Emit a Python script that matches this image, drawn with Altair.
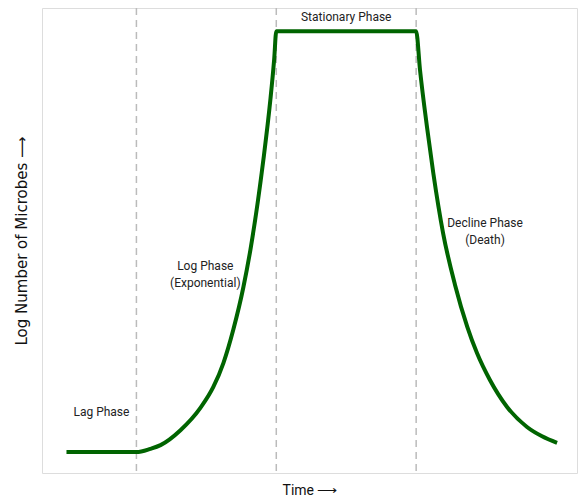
import altair as alt
import pandas as pd

# Growth curve points (time, log number)
t_vals = [1.0, 3.0, 3.4, 3.69, 4.26, 4.83, 5.2, 5.49, 5.77, 6.06, 6.26, 6.63, 6.83, 6.94, 7.0,
          11.0, 11.11, 11.31, 11.49, 11.77, 12.11, 12.46, 12.74, 13.11, 13.6, 14.17, 14.6, 15.03]
y_vals = [0.45, 0.45, 0.52, 0.60, 0.92, 1.40, 1.85, 2.37, 3.08, 4.0, 4.80, 6.73, 8.02, 8.9, 9.5,
          9.5, 8.67, 7.44, 6.45, 5.16, 4.05, 3.15, 2.58, 2.0, 1.42, 0.99, 0.79, 0.65]

phase_bounds = [3, 7, 11]

label_text = ["Lag Phase", "Log Phase", "(Exponential)", "Stationary Phase", "Decline Phase", "(Death)"]
label_x = [2.0, 4.97, 4.97, 9.0, 12.97, 12.97]
label_y = [1.31, 4.45, 4.09, 9.81, 5.38, 5.01]

curve = pd.DataFrame({"t": t_vals, "y": y_vals})
bounds = pd.DataFrame({"t": phase_bounds})
labels = pd.DataFrame({"text": label_text, "t": label_x, "y": label_y})

xscale = alt.Scale(domain=[0.3, 15.6], nice=False, zero=False)
yscale = alt.Scale(domain=[0, 10], nice=False, zero=False)

x_axis = alt.Axis(title="Time ⟶", labels=False, ticks=False, domain=False, grid=False,
                  titleFontSize=14, titleFont="Roboto", titleFontWeight="normal",
                  titleColor="#111111", titlePadding=10)
y_axis = alt.Axis(title="Log Number of Microbes ⟶", labels=False, ticks=False, domain=False,
                  grid=False, titleFontSize=15, titleFont="DejaVu Sans",
                  titleFontWeight="normal", titleColor="#111111", titlePadding=13)

rules = alt.Chart(bounds).mark_rule(color="#bbbbbb", strokeWidth=1.5, strokeDash=[7, 5]).encode(
    x=alt.X("t:Q", scale=xscale, axis=x_axis)
)

line = alt.Chart(curve).mark_line(color="#006400", strokeWidth=4, interpolate="monotone").encode(
    x=alt.X("t:Q", scale=xscale, axis=x_axis),
    y=alt.Y("y:Q", scale=yscale, axis=y_axis),
)

text = alt.Chart(labels).mark_text(font="Roboto", fontSize=12, color="#222222",
                                   align="center", baseline="middle").encode(
    x=alt.X("t:Q", scale=xscale),
    y=alt.Y("y:Q", scale=yscale),
    text="text:N",
)

chart = alt.layer(rules, line, text).properties(
    width=535, height=465, autosize="none",
    padding={"left": 34, "top": 0, "right": 1, "bottom": 26},
).configure_view(stroke="#333333", strokeWidth=1.2).configure(background="white")

chart.save("out.html", embed_options={"renderer": "svg", "actions": False})
